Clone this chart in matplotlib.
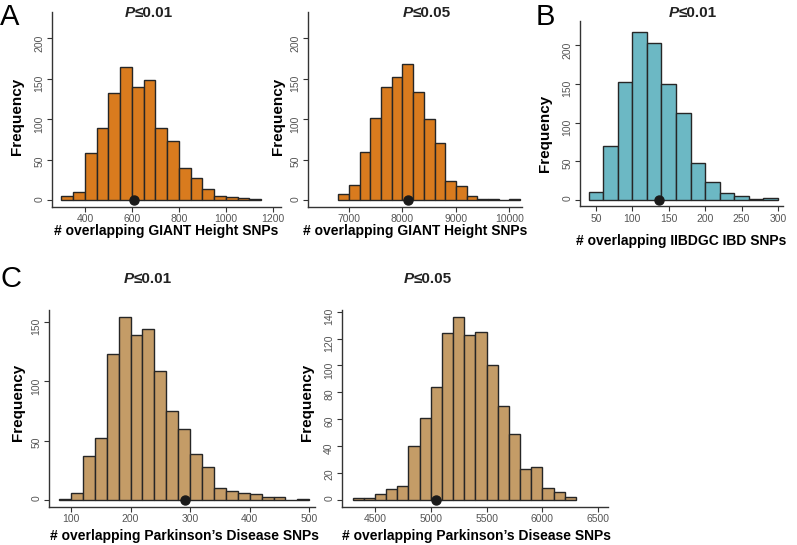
import numpy as np
import matplotlib
matplotlib.use("Agg")
import matplotlib.pyplot as plt
from matplotlib.transforms import Affine2D

plt.rcParams['font.family'] = ['Liberation Sans', 'DejaVu Sans']

W, H = 797, 545

# bin counts (1000 permutations each)
height01_start, height01_width = 300, 50
height01_counts = [5, 10, 58, 89, 132, 165, 140, 148, 89, 73, 40, 27, 13, 5, 4, 2, 1]
height01_observed = 610

height05_start, height05_width = 6800, 200
height05_counts = [8, 19, 59, 102, 140, 152, 168, 134, 100, 70, 24, 17, 5, 1, 1, 0, 1]
height05_observed = 8100

ibd_start, ibd_width = 40, 20
ibd_counts = [10, 70, 153, 217, 203, 150, 112, 47, 23, 8, 4, 1, 2]
ibd_observed = 136

pd01_start, pd01_width = 80, 20
pd01_counts = [1, 6, 37, 52, 123, 154, 139, 144, 109, 75, 60, 39, 28, 10, 7, 6, 5, 2, 2, 0, 1]
pd01_observed = 291

pd05_start, pd05_width = 4300, 100
pd05_counts = [1, 1, 4, 8, 10, 40, 61, 84, 124, 136, 123, 125, 100, 70, 49, 23, 24, 9, 6, 2]
pd05_observed = 5050

ORANGE = "#d97b1e"
TEAL = "#6cb8c4"
TAN = "#c49c67"
EDGE = "#262626"

fig = plt.figure(figsize=(W / 100, H / 100), dpi=100)
# pixel coordinates measured from the top-left corner
px = Affine2D().scale(1, -1).translate(0, H)


def panel(rect, start, width, counts, observed, color, xlim, ylim,
          xticks, yticks, xlabel, xlab_pos, ylab_pos):
    l, t, r, b = rect
    ax = fig.add_axes([l / W, 1 - b / H, (r - l) / W, (b - t) / H])
    edges = start + width * np.arange(len(counts))
    ax.bar(edges, counts, width=width, align="edge", color=color,
           edgecolor=EDGE, linewidth=1.0)
    ax.plot([observed], [0], "o", color="#1a1a1a", ms=6.5, zorder=5, clip_on=False)

    ax.set_xlim(*xlim)
    ax.set_ylim(*ylim)
    ax.set_xticks(xticks)
    ax.set_yticks(yticks)
    for s in ("top", "right"):
        ax.spines[s].set_visible(False)
    for s in ("left", "bottom"):
        ax.spines[s].set_color("#333333")
        ax.spines[s].set_linewidth(1.0)
    ax.tick_params(length=3.6, width=0.8, color="#333333", labelsize=7.5,
                   labelcolor="#555555", pad=2)
    ax.tick_params(axis="y", labelrotation=90)

    # x label anchored at its baseline so it sits clear of the tick labels
    ax.set_xlabel(xlabel, fontsize=10, fontweight="bold", va="baseline")
    ax.xaxis.set_label_coords(*xlab_pos, transform=px)
    ax.set_ylabel("Frequency", fontsize=11, fontweight="bold", va="center")
    ax.yaxis.set_label_coords(*ylab_pos, transform=px)
    return ax


def title(cx, cy, thresh):
    fig.text(cx - 14, cy, "P", transform=px, ha="right", va="center",
             fontsize=11, fontweight="bold", fontstyle="italic", color="#222222")
    fig.text(cx - 14, cy, "\u2264" + thresh, transform=px, ha="left", va="center",
             fontsize=11, fontweight="bold", color="#222222")


panel((52, 11.7, 281, 206.7), height01_start, height01_width, height01_counts,
      height01_observed, ORANGE, (260, 1234), (-8.3, 232.9),
      [400, 600, 800, 1000, 1200], [0, 50, 100, 150, 200],
      "# overlapping GIANT Height SNPs", (166, 235), (17, 116))
panel((308.3, 11.7, 521.7, 206.7), height05_start, height05_width, height05_counts,
      height05_observed, ORANGE, (6238, 10232), (-8.3, 232.9),
      [7000, 8000, 9000, 10000], [0, 50, 100, 150, 200],
      "# overlapping GIANT Height SNPs", (415, 235), (278, 116))
panel((580, 21, 783, 206), ibd_start, ibd_width, ibd_counts,
      ibd_observed, TEAL, (28.1, 306.9), (-8.4, 231.8),
      [50, 100, 150, 200, 250, 300], [0, 50, 100, 150, 200],
      "# overlapping IIBDGC IBD SNPs", (681, 245), (545, 133))
panel((49.3, 310, 315, 506.7), pd01_start, pd01_width, pd01_counts,
      pd01_observed, TAN, (63.6, 509.6), (-5.9, 160.2),
      [100, 200, 300, 400, 500], [0, 50, 100, 150],
      "# overlapping Parkinson\u2019s Disease SNPs", (185, 540), (18, 402))
panel((342, 310, 608.3, 506.7), pd05_start, pd05_width, pd05_counts,
      pd05_observed, TAN, (4205, 6590), (-5.2, 141.3),
      [4500, 5000, 5500, 6000, 6500], [0, 20, 40, 60, 80, 100, 120, 140],
      "# overlapping Parkinson\u2019s Disease SNPs", (476, 540), (307, 402))

title(149, 13, "0.01")
title(427, 13, "0.05")
title(693, 13, "0.01")
title(148, 279, "0.01")
title(428, 279, "0.05")

for letter, x, y in (("A", 0, 17), ("B", 536, 17), ("C", 0, 279)):
    fig.text(x, y, letter, transform=px, ha="left", va="center", fontsize=21)

fig.savefig("out.png", dpi=100)
